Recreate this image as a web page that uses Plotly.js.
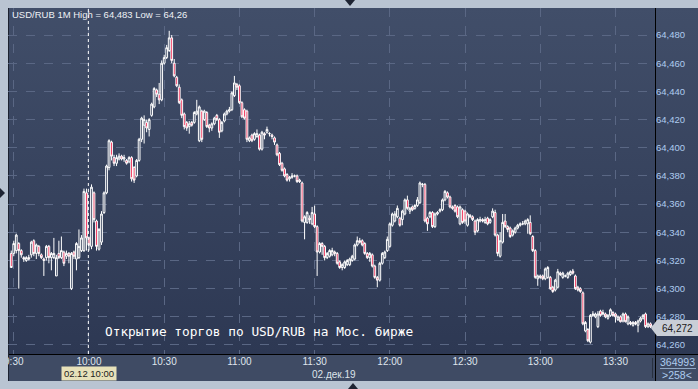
<!DOCTYPE html>
<html><head><meta charset="utf-8">
<script src="https://cdn.plot.ly/plotly-3.0.1.min.js"></script>
<style>
html,body{margin:0;padding:0;background:#b9c4d2;width:698px;height:389px;overflow:hidden}
#wrap{position:relative;width:698px;height:389px}
.bx{position:absolute}
#plotbg{left:8px;top:8px;width:647px;height:346px;background:linear-gradient(#414e69,#2d3853)}
#rightbg{left:655px;top:8px;width:43px;height:346px;background:linear-gradient(#414e69,#2d3853)}
#botbg{left:8px;top:354px;width:690px;height:27px;background:#3f4b64}
#vline{left:655px;top:8px;width:1px;height:373px;background:#000}
#hline{left:8px;top:354px;width:690px;height:1px;background:#000}
#lline{left:8px;top:8px;width:1px;height:373px;background:#1c2230}
#sepv{left:652px;top:358px;width:1px;height:20px;background:#28303f}
#seph{left:660px;top:368px;width:36px;height:1px;background:#8fa6c4}
#chart{position:absolute;left:0;top:0;width:698px;height:389px}
.ov{position:absolute;background:#b9c4d2;z-index:5}
.tri{position:absolute;width:0;height:0;z-index:6}
</style></head>
<body><div id="wrap">
<div class="bx" id="plotbg"></div><div class="bx" id="rightbg"></div><div class="bx" id="botbg"></div>
<div class="bx" id="vline"></div><div class="bx" id="hline"></div><div class="bx" id="lline"></div>
<div class="bx" id="sepv"></div><div class="bx" id="seph"></div>
<div id="chart"></div>
<div class="ov" style="left:0;top:0;width:8px;height:389px"></div>
<div class="ov" style="left:0;top:0;width:698px;height:7px"></div>
<div class="ov" style="left:0;top:381px;width:698px;height:8px"></div>
<div class="tri" style="left:345px;top:0;border-left:5px solid transparent;border-right:5px solid transparent;border-top:6px solid #1e2433"></div>
<div class="tri" style="left:0;top:188px;border-top:5px solid transparent;border-bottom:5px solid transparent;border-left:5px solid #1e2433"></div>
<div class="tri" style="left:348px;top:383px;border-left:5px solid transparent;border-right:5px solid transparent;border-bottom:6px solid #1e2433"></div>
</div>
<script>
// 1-minute bars, 02.12.2019, first bar 09:29
var startTime = '2019-12-02T09:29:00';
var open = [
64.325,64.325,64.327,64.332,64.327,64.322,64.320,64.322,64.324,64.334,64.325,64.330,64.324,64.321,64.322,64.330,64.322,64.322,64.309,64.325,64.322,64.326,64.323,64.325,64.300,64.326,64.321,64.322,64.327,64.327,64.368,
64.336,64.330,64.368,64.348,64.328,64.333,64.354,64.368,64.386,64.404,64.393,64.389,64.392,64.394,64.392,64.391,64.390,64.393,64.386,64.380,64.391,64.406,64.416,64.418,64.413,64.423,64.429,64.441,64.438,64.434,64.460,64.464,64.469,64.478,
64.460,64.450,64.443,64.434,64.424,64.418,64.415,64.418,64.418,64.424,64.405,64.426,64.420,64.425,64.416,64.414,64.417,64.423,64.420,64.412,64.419,64.424,64.426,64.427,64.437,64.445,64.444,64.432,64.427,64.426,64.405,64.409,64.406,64.408,64.409,64.399,64.410,64.411,64.410,64.409,64.407,64.402,64.396,64.389,64.385,64.381,64.378,64.379,64.380,64.380,64.377,64.375,64.347,64.347,64.350,64.346,64.353,64.344,64.326,64.332,64.330,64.322,64.323,
64.324,64.326,64.325,64.319,64.315,64.315,64.317,64.317,64.320,64.321,64.331,64.334,64.334,64.332,64.325,64.322,64.324,64.316,64.308,64.306,64.318,64.322,64.327,64.330,64.345,64.348,64.351,64.350,64.349,64.353,64.363,64.355,64.358,64.357,64.359,64.361,64.374,64.374,64.350,64.351,64.354,64.344,64.353,64.355,64.356,64.363,64.368,64.365,64.358,64.359,64.358,64.346,64.356,64.355,64.345,64.352,64.351,64.348,64.341,64.348,64.349,64.347,64.350,
64.347,64.351,64.354,64.338,64.323,64.333,64.348,64.344,64.343,64.338,64.340,64.343,64.345,64.346,64.346,64.346,64.347,64.337,64.327,64.307,64.309,64.309,64.307,64.308,64.308,64.301,64.299,64.301,64.311,64.308,64.309,64.308,64.310,64.3125,64.309,64.301,64.300,64.297,64.270,64.271,64.262,64.281,64.280,64.273,64.284,64.283,64.282,64.279,64.281,64.283,64.282,64.278,64.280,64.277,64.282,64.275,64.276,64.274,64.276,64.274,64.277,64.279,64.282,64.273,64.275,64.273];
var high = [
64.327,64.334,64.339,64.333,64.328,64.323,64.323,64.324,64.334,64.335,64.332,64.331,64.325,64.322,64.331,64.331,64.326,64.336,64.324,64.334,64.337,64.327,64.327,64.326,64.326,64.327,64.333,64.342,64.338,64.371,64.371,
64.337,64.374,64.369,64.349,64.343,64.355,64.369,64.388,64.406,64.405,64.395,64.395,64.396,64.395,64.395,64.392,64.394,64.394,64.387,64.392,64.407,64.422,64.423,64.420,64.421,64.432,64.443,64.442,64.446,64.462,64.466,64.473,64.483,64.480,
64.463,64.451,64.445,64.435,64.425,64.419,64.419,64.419,64.426,64.434,64.430,64.427,64.427,64.426,64.417,64.418,64.422,64.424,64.421,64.419,64.425,64.427,64.429,64.440,64.451,64.446,64.445,64.433,64.428,64.427,64.408,64.410,64.411,64.413,64.410,64.412,64.411,64.415,64.411,64.410,64.408,64.403,64.397,64.390,64.386,64.382,64.380,64.382,64.381,64.381,64.378,64.376,64.352,64.355,64.352,64.358,64.359,64.345,64.333,64.333,64.331,64.326,64.328,
64.329,64.327,64.326,64.320,64.318,64.320,64.321,64.322,64.324,64.332,64.337,64.336,64.335,64.333,64.326,64.326,64.325,64.317,64.309,64.319,64.326,64.327,64.337,64.347,64.354,64.355,64.359,64.351,64.356,64.364,64.366,64.358,64.359,64.360,64.365,64.376,64.375,64.375,64.351,64.355,64.355,64.354,64.355,64.357,64.364,64.370,64.369,64.366,64.359,64.360,64.359,64.359,64.357,64.356,64.354,64.353,64.352,64.349,64.350,64.351,64.350,64.351,64.351,
64.350,64.357,64.356,64.339,64.340,64.353,64.353,64.345,64.344,64.342,64.344,64.346,64.347,64.348,64.349,64.350,64.352,64.338,64.328,64.310,64.310,64.310,64.315,64.316,64.309,64.302,64.307,64.314,64.312,64.312,64.310,64.312,64.313,64.314,64.310,64.302,64.301,64.298,64.277,64.272,64.282,64.284,64.283,64.284,64.285,64.285,64.283,64.282,64.286,64.284,64.283,64.281,64.281,64.283,64.283,64.281,64.277,64.277,64.277,64.278,64.280,64.282,64.283,64.276,64.276,64.274];
var low = [
64.315,64.323,64.325,64.300,64.322,64.319,64.319,64.320,64.322,64.323,64.321,64.323,64.321,64.309,64.320,64.318,64.313,64.321,64.309,64.321,64.321,64.316,64.321,64.318,64.299,64.321,64.313,64.321,64.326,64.326,64.327,
64.327,64.328,64.347,64.327,64.327,64.331,64.353,64.367,64.384,64.391,64.387,64.387,64.391,64.391,64.390,64.388,64.389,64.376,64.375,64.379,64.390,64.404,64.403,64.411,64.408,64.422,64.428,64.436,64.431,64.433,64.459,64.463,64.468,64.460,
64.450,64.443,64.431,64.421,64.413,64.412,64.410,64.415,64.417,64.423,64.404,64.404,64.419,64.414,64.411,64.412,64.416,64.419,64.407,64.411,64.418,64.423,64.425,64.426,64.436,64.441,64.431,64.421,64.420,64.404,64.404,64.404,64.405,64.407,64.398,64.398,64.406,64.410,64.408,64.406,64.402,64.394,64.387,64.383,64.379,64.376,64.376,64.378,64.379,64.375,64.375,64.347,64.335,64.346,64.346,64.345,64.343,64.309,64.325,64.324,64.320,64.321,64.322,
64.323,64.323,64.317,64.314,64.313,64.314,64.316,64.316,64.319,64.320,64.330,64.332,64.330,64.324,64.321,64.319,64.315,64.307,64.301,64.305,64.317,64.321,64.326,64.329,64.344,64.347,64.350,64.344,64.345,64.352,64.356,64.353,64.355,64.356,64.358,64.360,64.372,64.347,64.341,64.350,64.343,64.343,64.352,64.354,64.355,64.362,64.364,64.357,64.356,64.354,64.350,64.345,64.346,64.346,64.344,64.350,64.348,64.338,64.340,64.347,64.347,64.346,64.345,
64.346,64.350,64.337,64.323,64.322,64.332,64.343,64.340,64.336,64.337,64.339,64.342,64.344,64.345,64.345,64.339,64.338,64.326,64.307,64.302,64.307,64.306,64.306,64.307,64.299,64.297,64.298,64.300,64.309,64.307,64.308,64.307,64.309,64.310,64.299,64.298,64.297,64.274,64.269,64.262,64.261,64.280,64.279,64.272,64.280,64.281,64.279,64.278,64.280,64.280,64.276,64.277,64.276,64.276,64.276,64.274,64.274,64.273,64.274,64.269,64.276,64.278,64.272,64.272,64.272,64.271];
var close = [
64.315,64.332,64.338,64.327,64.324,64.321,64.322,64.321,64.333,64.325,64.331,64.325,64.322,64.320,64.330,64.322,64.325,64.325,64.322,64.322,64.327,64.318,64.325,64.323,64.325,64.323,64.332,64.330,64.336,64.369,64.336,
64.331,64.372,64.349,64.330,64.342,64.353,64.368,64.387,64.405,64.394,64.389,64.393,64.394,64.392,64.393,64.389,64.393,64.378,64.377,64.391,64.406,64.421,64.420,64.414,64.420,64.431,64.442,64.438,64.434,64.460,64.464,64.471,64.478,64.462,
64.451,64.444,64.432,64.423,64.415,64.414,64.417,64.416,64.425,64.426,64.429,64.406,64.426,64.415,64.414,64.417,64.421,64.420,64.411,64.418,64.424,64.426,64.427,64.439,64.446,64.443,64.432,64.422,64.421,64.406,64.407,64.405,64.410,64.410,64.399,64.411,64.409,64.413,64.410,64.408,64.404,64.395,64.388,64.384,64.380,64.377,64.379,64.380,64.380,64.376,64.376,64.348,64.351,64.354,64.349,64.354,64.344,64.326,64.332,64.330,64.322,64.325,64.327,
64.327,64.325,64.318,64.315,64.317,64.319,64.320,64.321,64.323,64.331,64.334,64.333,64.331,64.325,64.322,64.325,64.316,64.308,64.306,64.318,64.325,64.326,64.335,64.346,64.353,64.353,64.357,64.345,64.355,64.363,64.357,64.357,64.356,64.359,64.363,64.375,64.374,64.348,64.346,64.354,64.344,64.353,64.354,64.356,64.363,64.369,64.365,64.358,64.357,64.355,64.351,64.358,64.347,64.348,64.353,64.351,64.349,64.340,64.349,64.349,64.348,64.349,64.346,
64.349,64.355,64.338,64.325,64.334,64.347,64.344,64.342,64.337,64.341,64.343,64.345,64.346,64.346,64.348,64.349,64.339,64.327,64.308,64.309,64.308,64.307,64.314,64.315,64.300,64.298,64.306,64.312,64.310,64.311,64.309,64.311,64.312,64.311,64.300,64.299,64.298,64.275,64.276,64.263,64.281,64.282,64.282,64.282,64.281,64.282,64.280,64.281,64.285,64.281,64.280,64.280,64.2765,64.282,64.2765,64.280,64.275,64.276,64.275,64.277,64.279,64.281,64.273,64.275,64.273,64.272];

var xTickVals = ['2019-12-02 09:30','2019-12-02 10:00','2019-12-02 10:30','2019-12-02 11:00','2019-12-02 11:30','2019-12-02 12:00','2019-12-02 12:30','2019-12-02 13:00','2019-12-02 13:30'];
var xTickText = ['9:30','10:00','10:30','11:00','11:30','12:00','12:30','13:00','13:30'];
var titleText = 'USD/RUB 1M High = 64,483 Low = 64,26';
var noteText = 'Открытие торгов по USD/RUB на Мос. бирже';
var cursorTime = '2019-12-02 09:59:45';
var cursorLabel = '02.12 10:00';
var dateLabel = '02.дек.19';
var volumeText = '364993';
var barsText = '>258<';
var lastPriceText = '64,272';

if (open.length !== close.length || high.length !== close.length || low.length !== close.length) {
  throw new Error('length mismatch ' + open.length + ' ' + high.length + ' ' + low.length + ' ' + close.length);
}
var t0 = new Date(startTime + 'Z').getTime();
var times = open.map(function(_, i){
  var d = new Date(t0 + i*60000).toISOString();
  return d.slice(0,10) + ' ' + d.slice(11,19);
});

// pixel -> paper helpers (plot area x 8..655, y 8..354)
function px(x){ return (x-8)/647; }
function py(y){ return (354-y)/346; }

var font = 'Liberation Sans, Arial, sans-serif';
var trace = {
  type:'candlestick', x:times, open:open, high:high, low:low, close:close,
  increasing:{line:{color:'#ffffff', width:1}, fillcolor:'#34405b'},
  decreasing:{line:{color:'#ffffff', width:1}, fillcolor:'#f0103f'},
  whiskerwidth:0, hoverinfo:'skip'
};
var layout = {
  width:698, height:389,
  margin:{l:8, r:43, t:8, b:35, pad:0},
  paper_bgcolor:'rgba(0,0,0,0)', plot_bgcolor:'rgba(0,0,0,0)',
  separators:', ',
  showlegend:false,
  boxgap:0.0,
  xaxis:{type:'date', range:['2019-12-02 09:27:42','2019-12-02 13:45:46'],
    tickmode:'array', tickvals:xTickVals, ticktext:xTickText,
    showgrid:true, gridcolor:'#5a6784', griddash:'dash', gridwidth:1,
    zeroline:false, showline:false, ticks:'',
    tickfont:{family:font, size:10, color:'#dfe4ec'},
    rangeslider:{visible:false}, fixedrange:true},
  yaxis:{side:'right', range:[64.2536, 64.4992], tick0:64.26, dtick:0.02, tickformat:'.3f',
    showgrid:true, gridcolor:'#5a6784', griddash:'dash', gridwidth:1,
    zeroline:false, showline:false, ticks:'',
    tickfont:{family:font, size:9.5, color:'#aecbef'}, fixedrange:true},
  shapes:[
    {type:'line', xref:'x', yref:'paper', x0:cursorTime, x1:cursorTime, y0:0, y1:1,
     line:{color:'#ffffff', width:1, dash:'dot'}},
    {type:'path', xref:'paper', yref:'paper',
     path:'M '+px(651)+','+py(328)+' L '+px(657)+','+py(320)+' L '+px(698)+','+py(320)+' L '+px(698)+','+py(336)+' L '+px(657)+','+py(336)+' Z',
     fillcolor:'#c9ced6', line:{width:0}}
  ],
  annotations:[
    {text:titleText, xref:'paper', yref:'paper', x:px(10), y:py(15), xanchor:'left', yanchor:'middle',
     showarrow:false, font:{family:font, size:9.5, color:'#eef1f5'}},
    {text:noteText, xref:'paper', yref:'paper', x:px(103), y:py(331), xanchor:'left', yanchor:'middle',
     showarrow:false, font:{family:'DejaVu Sans Mono, monospace', size:12.8, color:'#ffffff'}},
    {text:cursorLabel, xref:'paper', yref:'paper', x:px(88.5), y:py(373.5), xanchor:'center', yanchor:'middle',
     showarrow:false, bgcolor:'#e7e1b9', borderpad:1, width:52, height:11,
     font:{family:font, size:9.5, color:'#1b1b1b'}},
    {text:dateLabel, xref:'paper', yref:'paper', x:px(334), y:py(374), xanchor:'center', yanchor:'middle',
     showarrow:false, font:{family:font, size:10, color:'#dde3ea'}},
    {text:volumeText, xref:'paper', yref:'paper', x:px(677), y:py(361.5), xanchor:'center', yanchor:'middle',
     showarrow:false, font:{family:font, size:10.5, color:'#aecbef'}},
    {text:barsText, xref:'paper', yref:'paper', x:px(677), y:py(374.5), xanchor:'center', yanchor:'middle',
     showarrow:false, font:{family:font, size:10.5, color:'#aecbef'}},
    {text:lastPriceText, xref:'paper', yref:'paper', x:px(677), y:py(328), xanchor:'center', yanchor:'middle',
     showarrow:false, font:{family:font, size:10, color:'#1a1a1a'}}
  ]
};
Plotly.newPlot('chart', [trace], layout, {displayModeBar:false, staticPlot:true});
</script>
</body></html>
